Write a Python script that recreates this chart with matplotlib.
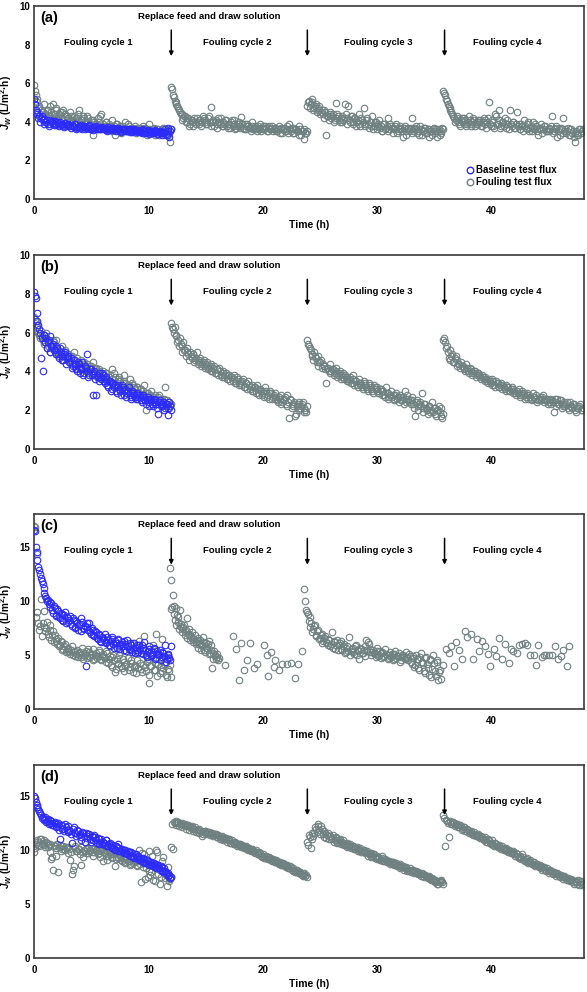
import numpy as np
import matplotlib
matplotlib.use('Agg')
import matplotlib.pyplot as plt
from matplotlib.lines import Line2D

plt.rcParams['font.family'] = ['Liberation Sans', 'DejaVu Sans']
plt.rcParams['font.weight'] = 'bold'
plt.rcParams['mathtext.fontset'] = 'custom'
plt.rcParams['mathtext.it'] = 'Liberation Sans:italic:bold'
plt.rcParams['mathtext.rm'] = 'Liberation Sans:bold'
plt.rcParams['mathtext.bf'] = 'Liberation Sans:bold'

# ---------------- data ----------------
x_ticks = [0, 10, 20, 30, 40]
cycle_labels = ['Fouling cycle 1', 'Fouling cycle 2', 'Fouling cycle 3', 'Fouling cycle 4']
replace_times = [12.0, 23.9, 35.9]
# sampling spans of each cycle (two interleaved reading sets per cycle)
cycle_t0 = [0.0, 12.0, 23.9, 35.8]
cycle_t1 = [11.9, 23.8, 35.7, 47.9]
cycle2_t0 = [0.075, 12.075, 23.975, 35.875]
cycle2_t1 = [11.975, 23.875, 35.775, 47.975]

# panel (a)
a_base_c1 = [5.2, 4.6, 4.4, 4.3, 4.2, 4.1, 4.15, 4.0, 3.9, 4.1, 4.0, 3.95, 4.05, 3.85, 3.95, 4.0, 3.9, 3.8, 3.95, 3.85,
             3.9, 3.8, 3.85, 3.75, 3.9, 3.7, 3.8, 3.85, 3.65, 3.8, 3.75, 3.7, 3.85, 3.6, 3.75, 3.7, 3.8, 3.65, 3.7, 3.6,
             3.7, 3.65, 3.55, 3.75, 3.6, 3.7, 3.55, 3.65, 3.6, 3.7, 3.5, 3.6, 3.55, 3.65, 3.5, 3.6, 3.55, 3.45, 3.6, 3.5,
             3.55, 3.5, 3.45, 3.6, 3.5, 3.4, 3.55, 3.45, 3.5, 3.4, 3.55, 3.45, 3.35, 3.5, 3.45, 3.4, 3.6, 3.3, 3.7, 3.5]
a_base_c1_2 = [4.9, 4.5, 4.2, 4.0, 4.3, 3.9, 4.0, 4.1, 3.8, 3.9, 4.05, 3.85, 3.9, 4.0, 3.8, 3.85, 3.9, 3.75, 3.85, 3.8,
               3.85, 3.7, 3.8, 3.9, 3.65, 3.75, 3.7, 3.8, 3.75, 3.6, 3.7, 3.8, 3.65, 3.7, 3.55, 3.75, 3.65, 3.7, 3.6, 3.75,
               3.6, 3.7, 3.5, 3.65, 3.55, 3.6, 3.7, 3.5, 3.55, 3.6, 3.45, 3.55, 3.6, 3.5, 3.55, 3.45, 3.6, 3.5, 3.55, 3.45,
               3.5, 3.45, 3.55, 3.4, 3.5, 3.45, 3.35, 3.5, 3.4, 3.45, 3.5, 3.35, 3.45, 3.4, 3.3, 3.45, 3.35, 3.5, 3.2, 3.65]
a_foul_c1 = [5.9, 5.4, 5.0, 4.8, 4.6, 4.5, 4.9, 4.4, 4.6, 4.3, 4.5, 4.9, 4.4, 4.7, 4.3, 4.5, 4.2, 4.6, 4.4, 4.3,
             4.2, 4.5, 4.1, 4.3, 4.0, 4.2, 4.6, 4.1, 3.9, 4.2, 4.0, 4.3, 3.8, 4.1, 3.3, 4.0, 3.9, 4.2, 3.8, 4.4,
             3.9, 3.7, 4.0, 3.8, 3.6, 4.1, 3.7, 3.3, 3.9, 3.6, 3.8, 3.5, 3.7, 4.0, 3.6, 3.8, 3.5, 3.7, 3.6, 3.4,
             3.7, 3.5, 3.6, 3.8, 3.4, 3.6, 3.5, 3.9, 3.4, 3.6, 3.3, 3.5, 3.6, 3.4, 3.5, 3.7, 3.3, 3.5, 3.6, 2.95]
a_foul_c1_2 = [5.6, 5.2, 4.7, 4.4, 4.5, 4.2, 4.4, 4.6, 4.3, 4.8, 4.2, 4.4, 4.6, 4.1, 4.4, 4.2, 4.5, 4.1, 4.3, 4.2,
               4.0, 4.3, 4.1, 3.9, 4.2, 4.4, 3.9, 4.1, 4.3, 3.8, 4.0, 4.2, 3.9, 3.7, 4.1, 3.9, 3.8, 4.0, 4.3, 3.7,
               3.8, 4.0, 3.6, 3.9, 3.7, 3.5, 3.8, 3.9, 3.6, 3.7, 3.4, 3.8, 3.6, 3.5, 3.9, 3.6, 3.7, 3.5, 3.8, 3.6,
               3.5, 3.7, 3.4, 3.5, 3.7, 3.3, 3.6, 3.4, 3.5, 3.7, 3.4, 3.6, 3.3, 3.5, 3.6, 3.4, 3.5, 3.3, 3.4, 3.6]
a_foul_c2 = [5.8, 5.4, 5.1, 4.9, 4.7, 4.5, 4.4, 4.2, 4.3, 4.0, 4.2, 3.9, 4.1, 3.8, 4.0, 4.2, 3.9, 4.1, 4.0, 4.2,
             4.1, 3.9, 4.3, 4.75, 4.0, 3.8, 4.1, 3.9, 4.0, 4.2, 3.8, 3.9, 4.1, 3.7, 3.9, 4.0, 3.8, 4.1, 3.7, 3.9,
             3.8, 4.25, 3.7, 3.9, 3.6, 3.8, 3.7, 4.0, 3.6, 3.8, 3.5, 3.7, 3.9, 3.6, 3.7, 3.8, 3.5, 3.7, 3.6, 3.8,
             3.6, 3.7, 3.5, 3.8, 3.6, 3.4, 3.7, 3.5, 3.6, 3.9, 3.5, 3.7, 3.4, 3.6, 3.5, 3.8, 3.3, 3.5, 3.6, 3.4]
a_foul_c2_2 = [5.7, 5.3, 5.0, 4.8, 4.6, 4.4, 4.1, 4.3, 4.0, 4.2, 3.8, 4.1, 4.0, 4.2, 3.9, 4.0, 4.1, 3.8, 4.3, 4.0,
               3.9, 4.2, 4.0, 3.8, 4.1, 4.0, 3.7, 4.2, 3.9, 3.8, 4.0, 4.1, 3.8, 3.9, 3.7, 4.1, 3.9, 3.6, 3.8, 4.0,
               3.7, 3.9, 3.6, 3.8, 3.9, 3.7, 3.5, 3.8, 3.7, 3.6, 3.8, 3.6, 3.5, 3.8, 3.6, 3.7, 3.5, 3.8, 3.6, 3.5,
               3.7, 3.5, 3.6, 3.4, 3.7, 3.6, 3.5, 3.8, 3.4, 3.6, 3.7, 3.4, 3.6, 3.5, 3.3, 3.6, 3.5, 3.1, 3.4, 3.5]
a_foul_c3 = [4.8, 5.1, 4.9, 5.0, 4.7, 4.9, 4.6, 4.8, 4.5, 4.4, 4.6, 3.3, 4.3, 4.5, 4.2, 4.4, 4.1, 4.95, 4.3, 4.0,
             4.3, 4.1, 4.9, 4.2, 4.8, 4.0, 4.3, 3.9, 4.2, 4.0, 4.4, 3.8, 4.1, 4.7, 3.9, 4.2, 3.7, 4.0, 4.3, 3.8,
             4.0, 3.6, 4.1, 3.8, 3.5, 3.9, 3.7, 4.2, 3.6, 3.8, 3.4, 3.7, 3.9, 3.5, 3.7, 3.6, 3.2, 3.8, 3.5, 3.7,
             3.6, 4.2, 3.5, 3.7, 3.4, 3.6, 3.8, 3.3, 3.5, 3.7, 3.4, 3.6, 3.5, 3.3, 3.7, 3.5, 3.2, 3.6, 3.4, 3.7]
a_foul_c3_2 = [5.0, 4.7, 5.2, 4.6, 4.8, 4.5, 4.7, 4.4, 4.6, 4.2, 4.5, 4.3, 4.1, 4.4, 4.3, 4.0, 4.2, 4.4, 4.1, 4.2,
               4.0, 4.2, 4.4, 3.9, 4.1, 4.3, 4.0, 4.2, 3.8, 4.1, 3.9, 4.2, 4.0, 3.8, 4.1, 3.9, 4.0, 3.8, 3.6, 4.0,
               3.8, 3.9, 3.7, 3.5, 3.9, 3.6, 3.8, 3.5, 3.9, 3.7, 3.6, 3.8, 3.4, 3.6, 3.8, 3.5, 3.7, 3.3, 3.6, 3.5,
               3.7, 3.4, 3.6, 3.8, 3.5, 3.3, 3.6, 3.5, 3.7, 3.4, 3.6, 3.2, 3.5, 3.6, 3.4, 3.6, 3.5, 3.3, 3.5, 3.6]
a_foul_c4 = [5.6, 5.4, 5.1, 4.8, 4.6, 4.4, 4.2, 4.1, 4.3, 3.9, 4.1, 4.0, 4.2, 3.8, 4.0, 4.1, 3.9, 4.2, 3.8, 4.0,
             3.9, 4.1, 3.8, 4.2, 3.9, 4.0, 5.0, 3.8, 4.1, 3.7, 4.3, 3.9, 4.6, 3.8, 4.0, 4.2, 3.7, 3.9, 4.6, 3.8,
             4.0, 3.7, 4.5, 3.9, 3.6, 3.8, 4.1, 3.7, 3.9, 3.5, 3.8, 4.0, 3.6, 3.8, 3.3, 3.7, 3.9, 3.6, 3.8, 3.5,
             3.7, 3.6, 4.3, 3.5, 3.8, 3.2, 3.6, 3.7, 4.2, 3.5, 3.4, 3.7, 3.3, 3.6, 3.5, 2.95, 3.4, 3.3, 3.6, 3.5]
a_foul_c4_2 = [5.5, 5.2, 4.9, 4.7, 4.5, 4.3, 4.0, 4.2, 4.0, 3.8, 4.2, 3.9, 4.1, 3.9, 4.3, 3.8, 4.0, 4.1, 3.9, 4.1,
               4.0, 3.8, 4.0, 4.1, 3.7, 4.2, 3.9, 4.0, 3.8, 4.4, 3.9, 4.1, 3.7, 4.0, 3.8, 3.9, 4.1, 3.6, 3.9, 4.0,
               3.7, 3.9, 3.8, 3.6, 3.9, 3.5, 3.8, 3.6, 4.0, 3.7, 3.5, 3.7, 3.9, 3.5, 3.7, 3.6, 3.4, 3.8, 3.5, 3.6,
               3.5, 3.8, 3.4, 3.6, 3.7, 3.5, 3.3, 3.6, 3.4, 3.6, 3.5, 3.3, 3.6, 3.4, 3.2, 3.5, 3.3, 3.6, 3.4, 3.6]

# panel (b)
b_base_c1 = [8.1, 7.8, 6.6, 6.2, 4.7, 4.0, 5.9, 5.7, 5.5, 5.8, 5.3, 5.4, 5.1, 5.3, 4.9, 5.2, 4.8, 4.6, 5.0, 4.7,
             4.8, 4.5, 4.2, 4.6, 4.3, 4.0, 4.4, 4.1, 4.5, 3.9, 4.2, 4.9, 3.8, 4.1, 2.8, 4.0, 2.8, 3.7, 3.9, 3.6,
             3.8, 3.4, 3.6, 3.2, 3.5, 3.1, 3.4, 3.3, 2.9, 3.2, 3.0, 3.3, 2.8, 3.1, 2.9, 3.2, 2.7, 3.0, 2.8, 2.6,
             2.9, 2.7, 2.5, 2.8, 2.6, 2.3, 2.7, 2.4, 2.6, 2.2, 2.5, 2.3, 1.8, 2.5, 2.2, 2.4, 2.1, 2.3, 1.75, 2.2]
b_base_c1_2 = [7.9, 7.0, 6.4, 6.0, 5.7, 5.9, 5.5, 5.2, 5.6, 5.0, 5.3, 5.1, 4.9, 5.2, 4.7, 5.0, 4.6, 4.9, 4.4, 4.8,
               4.5, 4.7, 4.3, 4.4, 4.1, 4.5, 3.9, 4.2, 3.8, 4.3, 4.0, 3.7, 4.1, 3.8, 3.9, 3.6, 3.8, 3.5, 3.7, 3.9,
               3.5, 3.7, 3.3, 3.5, 3.0, 3.4, 3.2, 3.0, 3.3, 3.1, 2.8, 3.2, 3.0, 2.7, 3.0, 2.8, 2.6, 2.9, 2.7, 2.8,
               2.6, 2.8, 2.4, 2.7, 2.5, 2.6, 2.2, 2.5, 2.3, 2.6, 2.4, 2.1, 2.4, 2.2, 2.3, 2.0, 2.3, 2.1, 2.4, 2.0]
b_foul_c1 = [6.8, 6.6, 6.3, 5.9, 6.1, 5.6, 5.5, 6.0, 5.3, 5.4, 5.2, 5.6, 5.0, 5.6, 5.1, 4.9, 5.3, 4.8, 5.1, 4.7,
             4.9, 4.6, 4.8, 5.0, 4.4, 4.7, 4.3, 4.6, 4.2, 4.5, 4.1, 4.4, 4.0, 4.3, 4.5, 3.9, 4.2, 3.8, 4.1, 3.7,
             4.0, 3.6, 3.9, 3.5, 3.8, 4.1, 3.4, 3.7, 3.3, 3.6, 3.5, 3.2, 3.8, 3.4, 3.1, 3.3, 3.0, 3.4, 3.2, 2.9,
             3.2, 2.9, 3.1, 2.8, 3.3, 2.0, 2.9, 2.7, 3.0, 2.6, 2.8, 2.5, 2.7, 2.4, 2.6, 2.3, 3.2, 2.5, 2.4, 2.3]
b_foul_c1_2 = [6.7, 6.4, 6.0, 5.7, 5.8, 5.4, 5.7, 5.2, 5.5, 5.0, 5.3, 5.5, 4.9, 5.2, 4.8, 5.0, 4.6, 5.0, 4.7, 4.9,
               4.6, 4.8, 4.4, 4.6, 4.2, 4.5, 4.1, 4.3, 4.4, 4.0, 4.2, 3.9, 4.3, 4.0, 3.8, 4.1, 3.7, 4.0, 3.9, 3.6,
               3.8, 3.9, 3.5, 3.7, 3.4, 3.6, 3.9, 3.3, 3.5, 3.7, 3.2, 3.4, 3.5, 3.1, 3.3, 3.6, 3.0, 3.3, 3.1, 3.2,
               2.9, 3.1, 2.8, 3.0, 2.7, 2.9, 2.6, 2.8, 2.5, 2.7, 2.4, 2.6, 2.8, 2.3, 2.5, 2.6, 2.2, 2.4, 2.1, 2.3]
b_foul_c2 = [6.5, 6.2, 6.3, 5.8, 5.6, 5.7, 5.3, 5.5, 5.1, 5.2, 4.9, 5.0, 4.7, 4.9, 4.6, 5.0, 4.5, 4.7, 4.4, 4.6,
             4.3, 4.5, 4.2, 4.4, 4.0, 4.3, 3.9, 4.1, 4.2, 3.8, 4.0, 3.7, 3.9, 3.6, 3.8, 3.7, 3.5, 3.8, 3.4, 3.6,
             3.5, 3.3, 3.6, 3.2, 3.4, 3.5, 3.1, 3.3, 3.0, 3.2, 3.3, 2.9, 3.1, 2.8, 3.0, 3.2, 2.7, 2.9, 3.0, 2.6,
             2.8, 2.9, 2.5, 2.7, 2.8, 2.4, 2.6, 2.3, 2.8, 1.6, 2.5, 2.2, 2.4, 1.8, 2.3, 2.0, 2.2, 2.4, 2.1, 1.9]
b_foul_c2_2 = [6.3, 6.0, 5.9, 5.5, 5.3, 5.4, 5.0, 5.1, 4.8, 5.0, 4.6, 4.8, 4.9, 4.5, 4.7, 4.4, 4.6, 4.3, 4.5, 4.2,
               4.4, 4.1, 4.3, 4.0, 4.2, 3.9, 4.1, 3.8, 4.0, 3.7, 3.9, 3.8, 3.6, 3.8, 3.5, 3.7, 3.6, 3.4, 3.7, 3.3,
               3.4, 3.5, 3.2, 3.4, 3.1, 3.3, 3.2, 3.0, 3.2, 2.9, 3.1, 2.8, 3.0, 2.9, 2.7, 3.0, 2.8, 2.6, 2.9, 2.7,
               2.6, 2.7, 2.4, 2.6, 2.3, 2.5, 2.7, 2.2, 2.4, 2.6, 2.1, 2.3, 1.7, 2.2, 2.4, 2.1, 2.3, 1.9, 2.0, 2.2]
b_foul_c3 = [5.6, 5.3, 5.1, 4.9, 5.0, 4.7, 4.8, 4.5, 4.6, 4.4, 4.3, 3.4, 4.2, 4.4, 4.0, 4.1, 3.9, 4.2, 3.8, 4.0,
             3.7, 3.9, 3.8, 3.6, 3.5, 3.7, 3.4, 3.8, 3.5, 3.3, 3.6, 3.4, 3.2, 3.5, 3.3, 3.1, 3.4, 3.2, 3.0, 3.3,
             3.1, 3.2, 2.9, 3.1, 3.0, 2.8, 3.2, 2.9, 2.7, 3.0, 2.8, 2.6, 2.9, 2.7, 2.8, 2.5, 2.7, 3.0, 2.4, 2.6,
             2.5, 2.7, 2.3, 1.7, 2.5, 2.2, 2.4, 2.9, 2.1, 2.3, 2.0, 2.2, 1.9, 2.4, 2.1, 1.8, 2.0, 2.2, 1.7, 1.6]
b_foul_c3_2 = [5.4, 5.2, 4.8, 4.6, 4.8, 4.5, 4.3, 4.5, 4.2, 4.3, 4.1, 4.2, 4.0, 3.9, 4.1, 3.8, 4.0, 3.7, 3.9, 3.6,
               3.8, 3.6, 3.7, 3.5, 3.6, 3.4, 3.6, 3.3, 3.5, 3.2, 3.4, 3.3, 3.1, 3.4, 3.2, 3.0, 3.3, 3.1, 2.9, 3.2,
               3.0, 2.9, 3.1, 2.8, 3.0, 2.7, 2.9, 2.6, 2.8, 2.7, 2.5, 2.8, 2.6, 2.4, 2.7, 2.5, 2.3, 2.6, 2.8, 2.4,
               2.3, 2.5, 2.1, 2.4, 2.0, 2.3, 2.2, 1.9, 2.3, 2.1, 1.8, 2.2, 2.0, 1.9, 2.1, 1.7, 2.0, 1.9, 2.1, 1.8]
b_foul_c4 = [5.6, 5.5, 5.3, 4.7, 5.1, 4.9, 4.5, 4.8, 4.6, 4.4, 4.5, 4.3, 4.2, 4.4, 4.0, 4.2, 4.1, 3.9, 4.0, 3.8,
             3.9, 3.7, 3.8, 3.6, 3.7, 3.5, 3.6, 3.4, 3.6, 3.3, 3.5, 3.4, 3.2, 3.4, 3.3, 3.1, 3.3, 3.2, 3.0, 3.2,
             3.1, 2.9, 3.0, 3.1, 2.8, 3.0, 2.9, 2.7, 2.9, 2.8, 2.6, 2.9, 2.7, 2.8, 2.5, 2.7, 2.6, 2.8, 2.5, 2.6,
             2.4, 2.6, 2.5, 1.9, 2.4, 2.6, 2.3, 2.5, 2.2, 2.4, 2.3, 2.1, 2.4, 2.2, 2.3, 2.0, 2.2, 2.1, 2.3, 2.0]
b_foul_c4_2 = [5.7, 5.2, 5.0, 4.6, 4.8, 4.5, 4.7, 4.3, 4.4, 4.2, 4.3, 4.1, 4.0, 4.2, 3.9, 4.0, 3.8, 4.0, 3.7, 3.9,
               3.8, 3.6, 3.7, 3.5, 3.6, 3.4, 3.5, 3.3, 3.5, 3.2, 3.4, 3.2, 3.3, 3.1, 3.2, 3.0, 3.2, 3.0, 3.1, 2.9,
               3.0, 2.8, 2.9, 2.7, 2.9, 2.8, 2.6, 2.8, 2.6, 2.7, 2.5, 2.7, 2.6, 2.4, 2.6, 2.5, 2.7, 2.4, 2.6, 2.3,
               2.5, 2.3, 2.4, 2.6, 2.2, 2.3, 2.5, 2.1, 2.3, 2.2, 2.4, 2.0, 2.2, 2.1, 2.3, 1.9, 2.1, 2.2, 2.0, 2.1]

# panel (c)
c_base_c1 = [16.6, 15.0, 13.8, 12.9, 12.2, 11.6, 10.8, 10.3, 10.1, 9.5, 9.8, 8.9, 9.4, 8.6, 9.1, 8.4, 8.8, 8.2, 9.0, 8.5,
             8.1, 8.6, 7.7, 8.3, 7.5, 8.0, 7.8, 7.2, 8.1, 7.4, 4.0, 7.6, 8.0, 7.0, 7.3, 6.8, 7.1, 6.5, 6.9, 6.2,
             6.6, 7.0, 6.1, 6.4, 5.8, 6.7, 6.0, 6.3, 5.7, 6.5, 5.9, 6.2, 5.5, 6.0, 6.4, 5.6, 5.9, 5.3, 6.1, 5.7,
             5.5, 5.9, 5.2, 5.7, 6.2, 5.0, 5.4, 5.8, 4.9, 5.3, 5.6, 4.7, 5.1, 5.5, 4.8, 5.2, 5.9, 4.6, 5.0, 4.5]
c_base_c1_2 = [16.5, 14.6, 13.2, 12.5, 11.9, 11.2, 10.5, 10.0, 9.7, 9.9, 9.2, 9.6, 8.7, 9.3, 8.5, 8.9, 8.3, 8.7, 8.0, 8.4,
               8.3, 7.9, 8.4, 7.6, 8.2, 7.3, 7.9, 8.4, 7.5, 7.7, 8.0, 7.3, 7.1, 7.5, 6.9, 7.2, 6.6, 7.0, 6.3, 6.7,
               6.4, 6.2, 6.7, 5.9, 6.3, 6.5, 5.7, 6.1, 6.4, 5.6, 6.0, 5.8, 6.3, 5.4, 5.8, 6.1, 5.5, 5.7, 5.2, 5.9,
               5.3, 5.6, 5.9, 5.1, 5.5, 4.8, 5.6, 5.2, 5.0, 5.7, 4.6, 5.4, 5.0, 4.5, 5.3, 4.9, 4.4, 5.1, 4.7, 5.8]
c_foul_c1 = [17.0, 8.5, 14.4, 7.3, 10.2, 8.0, 9.1, 7.5, 7.0, 7.8, 6.4, 7.2, 6.9, 6.3, 6.6, 5.9, 6.2, 5.6, 6.0, 5.4,
             5.6, 5.1, 5.8, 5.3, 4.9, 5.5, 5.2, 4.8, 5.7, 5.0, 5.4, 4.7, 5.3, 5.0, 5.6, 4.6, 5.2, 4.9, 5.5, 4.5,
             5.1, 4.7, 5.4, 4.3, 4.9, 3.9, 5.0, 3.4, 4.6, 4.2, 5.3, 3.8, 4.4, 4.0, 5.8, 3.6, 4.3, 6.1, 3.9, 3.3,
             4.5, 6.3, 3.7, 4.1, 6.8, 3.5, 4.6, 2.4, 4.0, 5.9, 3.6, 7.0, 4.2, 3.3, 6.5, 3.8, 4.4, 3.0, 3.7, 4.1]
c_foul_c1_2 = [16.9, 9.0, 8.0, 7.7, 6.8, 7.6, 7.2, 8.1, 6.7, 7.3, 6.9, 6.2, 6.5, 6.0, 5.8, 6.3, 5.5, 5.8, 5.3, 5.7,
               5.3, 5.5, 5.0, 5.4, 5.1, 4.8, 5.3, 5.0, 4.6, 5.2, 4.9, 5.6, 4.8, 5.1, 4.5, 5.0, 4.7, 5.3, 4.6, 4.9,
               4.8, 4.4, 5.2, 4.6, 4.1, 4.8, 4.5, 3.7, 4.3, 5.0, 4.0, 4.6, 3.5, 4.2, 4.7, 3.9, 4.5, 3.4, 4.1, 5.2,
               3.8, 4.3, 3.4, 5.5, 3.9, 4.4, 3.2, 4.0, 5.0, 3.6, 4.3, 3.1, 4.6, 3.9, 3.5, 4.2, 3.2, 4.8, 3.5, 3.0]
c_c1_span = [0.0, 11.9]
c_c1_span_2 = [0.075, 11.975]
c_foul_c2_dense = [13.1, 12.0, 10.6, 9.6, 9.4, 8.7, 8.5, 9.2, 7.9, 7.5, 7.8, 7.2, 8.4, 7.0, 7.4, 6.8, 7.1, 6.5,
                   6.9, 6.2, 6.6, 6.0, 6.4, 5.8, 6.7, 5.5, 6.1, 5.7, 6.3, 5.2, 5.9, 4.6, 5.4, 5.0, 4.8, 4.5]
c_foul_c2_dense_2 = [9.3, 9.5, 8.8, 8.3, 7.8, 8.1, 7.4, 7.7, 7.1, 7.6, 6.9, 7.3, 6.6, 7.0, 6.4, 6.7, 6.2, 6.5,
                     6.0, 6.3, 5.7, 6.1, 5.5, 5.9, 6.2, 5.3, 5.7, 6.0, 5.1, 5.5, 3.8, 5.2, 4.9, 4.6, 5.1, 4.7]
c_c2_dense_span = [11.9, 16.1]
c_c2_dense_span_2 = [11.96, 16.16]
c_foul_c2_sparse_t = [16.7, 17.4, 17.7, 17.9, 18.1, 18.4, 18.6, 18.9, 19.2, 19.5, 20.1, 20.4, 20.5, 20.7, 21.0,
                      21.1, 21.4, 21.7, 22.1, 22.5, 22.8, 23.1, 23.4]
c_foul_c2_sparse_y = [4.1, 6.8, 5.6, 2.7, 6.1, 3.6, 4.5, 6.1, 3.8, 4.2, 5.9, 5.0, 3.05, 5.3, 3.9, 4.5, 3.6, 4.2,
                      4.2, 4.3, 2.9, 4.2, 5.4]
c_foul_c3 = [11.1, 9.2, 8.8, 8.5, 8.0, 7.4, 7.8, 6.9, 7.3, 6.6, 7.0, 6.3, 6.8, 6.1, 6.5, 5.8, 7.1, 6.2, 5.6, 6.4,
             5.9, 6.3, 5.5, 6.0, 5.3, 5.8, 6.7, 5.4, 5.7, 5.1, 5.9, 5.5, 4.6, 5.6, 5.2, 5.8, 6.4, 6.2, 5.3, 5.0,
             5.5, 5.1, 5.7, 4.9, 5.4, 5.2, 4.8, 5.6, 5.0, 4.7, 5.3, 5.1, 4.6, 5.4, 4.9, 5.2, 4.5, 5.0, 4.8, 5.3,
             4.7, 5.1, 4.4, 4.9, 3.9, 5.0, 4.6, 3.6, 5.2, 4.3, 3.3, 4.8, 3.8, 4.5, 3.0, 5.0, 3.5, 4.4, 2.7, 3.6]
c_foul_c3_2 = [10.0, 9.0, 8.2, 7.6, 7.1, 7.7, 6.8, 7.2, 6.5, 6.9, 6.1, 6.6, 6.2, 5.9, 6.4, 6.0, 5.7, 6.3, 5.9, 5.5,
               6.1, 5.6, 5.8, 5.2, 5.7, 5.4, 5.0, 5.6, 5.3, 5.8, 5.0, 5.4, 5.7, 5.2, 5.5, 4.9, 5.4, 6.0, 5.6, 5.3,
               5.2, 4.8, 5.4, 5.0, 4.7, 5.3, 4.9, 5.1, 4.6, 5.0, 4.8, 4.5, 5.1, 4.7, 4.9, 4.4, 4.8, 5.0, 4.6, 4.8,
               4.5, 4.9, 4.2, 4.7, 4.1, 4.6, 3.8, 4.8, 4.4, 3.5, 4.7, 4.2, 3.2, 4.6, 3.7, 4.3, 3.1, 4.5, 3.4, 2.8]
c_c3_span = [23.65, 35.5]
c_c3_span_2 = [23.72, 35.57]
c_foul_c4_t = [35.8, 36.0, 36.3, 36.5, 36.7, 36.9, 37.2, 37.4, 37.7, 37.9, 38.2, 38.4, 38.7, 38.9, 39.2, 39.4,
               39.7, 39.9, 40.2, 40.4, 40.7, 40.9, 41.2, 41.5, 41.7, 41.9, 42.2, 42.4, 42.7, 42.9, 43.1, 43.4,
               43.7, 43.9, 44.1, 44.4, 44.6, 44.8, 45.0, 45.3, 45.6, 45.8, 46.1, 46.3, 46.6, 46.8]
c_foul_c4_y = [4.1, 5.6, 5.2, 5.8, 4.0, 6.2, 5.5, 4.6, 7.2, 6.7, 7.0, 4.6, 6.5, 5.4, 6.3, 5.8,
               5.1, 4.0, 5.6, 4.9, 6.6, 4.6, 6.0, 4.3, 5.6, 5.4, 5.2, 5.9, 6.0, 6.1, 5.9, 5.0,
               5.0, 4.1, 5.9, 4.8, 5.0, 5.0, 5.0, 5.0, 5.8, 4.6, 4.9, 5.5, 4.0, 5.8]

# panel (d)
d_base_c1 = [15.0, 14.5, 14.0, 13.6, 13.3, 13.1, 12.9, 12.6, 12.9, 12.5, 12.7, 12.3, 12.6, 12.2, 12.5, 11.0, 12.3, 12.0, 12.4, 11.9,
             12.2, 11.8, 10.7, 12.1, 11.6, 11.9, 11.4, 10.9, 11.7, 11.3, 11.6, 11.1, 11.5, 10.8, 11.2, 11.4, 10.9, 11.1, 10.6, 11.0,
             10.8, 10.5, 10.9, 10.4, 10.7, 10.2, 10.5, 10.0, 10.3, 10.6, 9.9, 10.1, 9.7, 10.0, 9.6, 9.8, 9.5, 9.7, 9.3, 9.6,
             9.4, 9.1, 9.3, 8.9, 9.2, 8.8, 9.0, 8.6, 8.9, 8.5, 8.7, 8.3, 8.6, 8.2, 8.4, 8.0, 8.1, 7.8, 7.6, 7.4]
d_base_c1_2 = [14.8, 14.2, 13.8, 13.4, 13.0, 12.8, 13.1, 12.7, 12.4, 12.8, 12.3, 12.5, 12.1, 12.4, 11.9, 12.3, 12.0, 11.8, 12.1, 11.7,
               11.9, 11.5, 12.0, 11.6, 11.3, 11.8, 11.5, 11.2, 11.6, 10.8, 11.3, 11.5, 11.0, 11.3, 10.9, 11.2, 10.7, 11.0, 10.8, 10.6,
               10.7, 10.9, 10.4, 10.6, 10.3, 10.5, 10.1, 10.4, 9.9, 10.2, 10.0, 9.8, 10.0, 9.7, 9.9, 9.5, 9.8, 9.4, 9.6, 9.3,
               9.5, 9.2, 9.0, 9.3, 8.8, 9.1, 8.7, 8.9, 8.6, 8.8, 8.4, 8.6, 8.3, 8.5, 8.1, 8.3, 8.0, 7.9, 7.7, 7.5]
d_foul_c1 = [9.8, 10.6, 10.9, 10.4, 11.0, 10.7, 10.5, 10.8, 10.3, 10.6, 9.2, 8.2, 10.4, 9.5, 8.0, 10.5, 10.1, 10.4, 10.0, 10.2,
             10.3, 9.1, 7.8, 8.5, 10.2, 9.9, 10.1, 8.6, 9.8, 10.0, 9.7, 10.2, 9.9, 10.4, 10.1, 9.8, 10.0, 9.6, 10.3, 9.9,
             9.0, 9.7, 10.0, 9.5, 9.8, 9.4, 9.6, 8.5, 9.7, 9.3, 9.5, 9.0, 9.4, 8.8, 9.2, 9.0, 8.7, 9.3, 8.9, 9.1,
             8.6, 10.0, 7.0, 8.8, 9.6, 8.3, 7.5, 9.9, 8.0, 7.2, 8.5, 10.0, 7.8, 6.9, 8.2, 9.4, 7.4, 6.7, 7.6, 7.3]
d_foul_c1_2 = [10.2, 10.8, 10.5, 11.0, 10.6, 10.9, 10.3, 10.7, 10.5, 9.8, 9.4, 10.5, 10.2, 10.6, 10.3, 9.9, 10.4, 10.1, 10.3, 9.7,
               10.1, 9.8, 8.2, 10.4, 9.9, 10.1, 9.6, 10.3, 9.4, 9.9, 10.1, 9.7, 10.0, 9.8, 9.5, 10.2, 9.9, 9.7, 9.4, 10.1,
               9.8, 9.5, 9.1, 9.8, 9.6, 9.3, 9.7, 9.2, 9.4, 9.6, 9.1, 9.3, 8.9, 9.5, 9.0, 8.6, 9.2, 8.8, 9.0, 8.5,
               9.0, 8.7, 9.7, 8.4, 7.3, 9.2, 8.1, 7.7, 9.5, 8.6, 7.1, 9.8, 8.3, 7.5, 9.0, 8.0, 7.7, 8.4, 7.1, 7.5]
d_foul_c2 = [10.3, 10.1, 12.5, 12.7, 12.6, 12.4, 12.5, 12.3, 12.4, 12.2, 12.3, 12.1, 12.2, 12.0, 12.1, 11.9, 12.0, 11.8, 11.3, 11.7,
             11.8, 11.6, 11.7, 11.5, 11.6, 11.4, 11.5, 11.2, 11.3, 11.1, 11.2, 11.0, 11.1, 10.9, 11.0, 10.7, 10.8, 10.6, 10.7, 10.5,
             10.6, 10.3, 10.4, 10.2, 10.3, 10.0, 10.1, 9.9, 10.0, 9.7, 9.8, 9.6, 9.7, 9.4, 9.5, 9.3, 9.4, 9.2, 9.3, 9.0,
             9.1, 8.9, 9.0, 8.7, 8.8, 8.6, 8.7, 8.4, 8.5, 8.3, 8.4, 8.1, 8.2, 8.0, 8.1, 7.9, 7.8, 7.6, 7.8, 7.7]
d_foul_c2_2 = [12.4, 12.6, 12.3, 12.5, 12.2, 12.4, 12.1, 12.3, 12.0, 12.2, 11.9, 12.1, 11.8, 12.0, 11.7, 11.9, 11.6, 11.8, 11.5, 11.8,
               11.5, 11.7, 11.4, 11.6, 11.3, 11.5, 11.2, 11.4, 11.0, 11.3, 10.9, 11.1, 10.8, 11.0, 10.7, 10.9, 10.6, 10.8, 10.4, 10.6,
               10.4, 10.5, 10.2, 10.4, 10.1, 10.2, 9.9, 10.1, 9.8, 10.0, 9.6, 9.8, 9.5, 9.6, 9.3, 9.5, 9.2, 9.4, 9.1, 9.2,
               8.9, 9.1, 8.8, 8.9, 8.6, 8.8, 8.5, 8.6, 8.3, 8.5, 8.2, 8.3, 8.0, 8.2, 7.9, 8.0, 7.7, 7.9, 7.6, 7.5]
d_foul_c3 = [10.8, 11.4, 10.2, 11.0, 11.6, 12.0, 12.4, 11.9, 12.2, 11.5, 11.8, 11.1, 11.6, 11.3, 11.0, 11.4, 10.9, 11.2, 10.8, 11.0,
             10.7, 10.9, 10.5, 10.7, 10.4, 10.6, 10.3, 10.4, 10.1, 10.3, 10.0, 10.2, 9.9, 10.0, 9.8, 9.9, 9.6, 9.7, 9.5, 9.6,
             9.4, 9.5, 9.3, 9.1, 9.5, 9.0, 9.1, 8.9, 9.0, 8.8, 8.9, 8.7, 8.8, 8.5, 8.7, 8.4, 8.5, 8.3, 8.4, 8.2,
             8.3, 8.1, 8.2, 8.0, 7.9, 8.0, 7.8, 7.9, 7.6, 7.7, 7.5, 7.6, 7.3, 7.4, 7.1, 7.2, 6.9, 7.0, 7.1, 7.0]
d_foul_c3_2 = [10.5, 11.2, 11.6, 11.3, 12.1, 11.7, 12.2, 11.5, 12.0, 11.2, 11.6, 11.4, 11.0, 11.3, 11.1, 10.8, 11.1, 10.7, 10.9, 10.6,
               10.8, 10.5, 10.6, 10.3, 10.5, 10.2, 10.4, 10.1, 10.2, 9.9, 10.1, 9.8, 10.0, 9.7, 9.8, 9.5, 9.7, 9.4, 9.6, 9.3,
               9.2, 9.4, 9.1, 9.3, 9.0, 9.2, 8.9, 9.0, 8.7, 8.9, 8.6, 8.8, 8.5, 8.6, 8.3, 8.5, 8.2, 8.3, 8.1, 8.2,
               8.0, 8.2, 7.9, 8.1, 7.8, 7.9, 7.6, 7.8, 7.5, 7.6, 7.4, 7.5, 7.2, 7.3, 7.0, 7.1, 6.9, 7.1, 7.2, 6.9]
d_foul_c4 = [13.3, 10.4, 12.7, 11.2, 12.6, 12.4, 12.5, 12.3, 12.4, 12.1, 12.2, 12.0, 12.1, 11.8, 11.9, 11.6, 11.7, 11.4, 11.5, 11.3,
             11.4, 11.1, 11.2, 10.9, 11.0, 10.8, 10.9, 10.6, 10.7, 10.4, 10.6, 10.3, 10.4, 10.1, 10.2, 10.0, 10.1, 9.8, 9.9, 9.7,
             9.8, 9.5, 9.6, 9.3, 9.4, 9.6, 9.1, 9.2, 8.9, 9.0, 8.8, 8.9, 8.6, 8.7, 8.5, 8.6, 8.3, 8.4, 8.2, 8.3,
             8.1, 8.2, 7.9, 8.0, 7.8, 7.9, 7.6, 7.7, 7.5, 7.6, 7.3, 7.4, 7.2, 7.3, 7.0, 7.1, 6.9, 7.2, 7.0, 6.8]
d_foul_c4_2 = [13.0, 12.8, 12.5, 12.7, 12.4, 12.6, 12.2, 12.4, 12.1, 12.3, 11.9, 12.1, 11.8, 12.0, 11.6, 11.8, 11.5, 11.7, 11.3, 11.5,
               11.2, 11.3, 11.0, 11.2, 10.8, 11.0, 10.7, 10.9, 10.5, 10.7, 10.4, 10.5, 10.2, 10.4, 10.0, 10.2, 9.9, 10.0, 9.7, 9.9,
               9.6, 9.7, 9.4, 9.5, 9.2, 9.4, 9.0, 9.3, 8.8, 9.1, 8.7, 8.9, 8.5, 8.7, 8.4, 8.5, 8.2, 8.4, 8.1, 8.2,
               7.9, 8.1, 7.8, 7.9, 7.6, 7.8, 7.5, 7.6, 7.3, 7.5, 7.2, 7.3, 7.1, 7.2, 6.9, 7.1, 7.0, 6.8, 7.1, 6.9]

# ---------------- styling ----------------
BLUE = '#2b2bff'
GRAY = '#6f8080'
MS = 4.7
MEW = 0.8


def plot_dense(ax, y, t0, t1, color, z=2):
    t = np.linspace(t0, t1, len(y))
    ax.plot(t, y, ls='none', marker='o', mfc='none', mec=color, ms=MS, mew=MEW, zorder=z)


def plot_pts(ax, t, y, color, z=2):
    ax.plot(t, y, ls='none', marker='o', mfc='none', mec=color, ms=MS, mew=MEW, zorder=z)


fig = plt.figure(figsize=(5.87, 9.92), dpi=100)
rects = [(0.058, 0.7994, 0.937, 0.1946),
         (0.058, 0.5474, 0.937, 0.1955),
         (0.058, 0.2853, 0.937, 0.1966),
         (0.058, 0.0343, 0.937, 0.1946)]
ylims = [(0, 10), (0, 10), (0, 18.1), (0, 17.9)]
yticks = [[0, 2, 4, 6, 8, 10], [0, 2, 4, 6, 8, 10], [0, 5, 10, 15], [0, 5, 10, 15]]
panel_letters = ['(a)', '(b)', '(c)', '(d)']
label_x = [5.6, 17.8, 30.1, 41.4]

axes = []
for i, r in enumerate(rects):
    ax = fig.add_axes(r)
    axes.append(ax)
    ax.set_xlim(0, 48.1)
    ax.set_ylim(*ylims[i])
    ax.set_xticks(x_ticks)
    ax.set_yticks(yticks[i])
    ax.tick_params(axis='x', length=0, labelsize=7, pad=5)
    ax.tick_params(axis='y', length=0, labelsize=7, pad=3)
    for lab in ax.get_xticklabels() + ax.get_yticklabels():
        lab.set_fontweight('bold')
    for s in ax.spines.values():
        s.set_color('#3a3a3a')
        s.set_linewidth(1.2)
    ax.set_xlabel('Time (h)', fontsize=7.5, fontweight='bold', labelpad=3)
    ax.set_ylabel(r'$J_W$ (L/m$^2$·h)', fontsize=7.2, fontweight='bold')
    ax.yaxis.set_label_coords(-0.036, 0.5)
    ax.text(0.011, 0.94, panel_letters[i], transform=ax.transAxes, fontsize=10.5,
            fontweight='bold', ha='left', va='center')
    ax.text(0.319, 0.945, 'Replace feed and draw solution', transform=ax.transAxes,
            fontsize=6.8, fontweight='bold', ha='center', va='center')
    for lx, lab in zip(label_x, cycle_labels):
        ax.text(lx, 0.813, lab, transform=ax.get_xaxis_transform(), fontsize=6.8,
                fontweight='bold', ha='center', va='center')
    for rt in replace_times:
        ax.annotate('', xy=(rt, 0.74), xytext=(rt, 0.875),
                    xycoords=ax.get_xaxis_transform(), textcoords=ax.get_xaxis_transform(),
                    arrowprops=dict(arrowstyle='-|>', lw=1.1, color='black', mutation_scale=6,
                                    shrinkA=0, shrinkB=0))

# (a)
ax = axes[0]
for k, (y1, y2) in enumerate(zip([a_foul_c1, a_foul_c2, a_foul_c3, a_foul_c4],
                                 [a_foul_c1_2, a_foul_c2_2, a_foul_c3_2, a_foul_c4_2])):
    plot_dense(ax, y1, cycle_t0[k], cycle_t1[k], GRAY)
    plot_dense(ax, y2, cycle2_t0[k], cycle2_t1[k], GRAY)
plot_dense(ax, a_base_c1, cycle_t0[0], cycle_t1[0], BLUE, z=3)
plot_dense(ax, a_base_c1_2, cycle2_t0[0], cycle2_t1[0], BLUE, z=3)
handles = [Line2D([], [], ls='none', marker='o', mfc='none', mec=BLUE, ms=MS, mew=1.0),
           Line2D([], [], ls='none', marker='o', mfc='none', mec=GRAY, ms=MS, mew=1.0)]
ax.legend(handles, ['Baseline test flux', 'Fouling test flux'], loc='lower left',
          bbox_to_anchor=(0.78, 0.04), frameon=False, handlelength=0.6,
          handletextpad=0.3, labelspacing=0.25, borderaxespad=0,
          prop={'size': 7, 'weight': 'bold'})

# (b)
ax = axes[1]
for k, (y1, y2) in enumerate(zip([b_foul_c1, b_foul_c2, b_foul_c3, b_foul_c4],
                                 [b_foul_c1_2, b_foul_c2_2, b_foul_c3_2, b_foul_c4_2])):
    plot_dense(ax, y1, cycle_t0[k], cycle_t1[k], GRAY)
    plot_dense(ax, y2, cycle2_t0[k], cycle2_t1[k], GRAY)
plot_dense(ax, b_base_c1, cycle_t0[0], cycle_t1[0], BLUE, z=3)
plot_dense(ax, b_base_c1_2, cycle2_t0[0], cycle2_t1[0], BLUE, z=3)

# (c)
ax = axes[2]
plot_dense(ax, c_foul_c1, c_c1_span[0], c_c1_span[1], GRAY)
plot_dense(ax, c_foul_c1_2, c_c1_span_2[0], c_c1_span_2[1], GRAY)
plot_dense(ax, c_foul_c2_dense, c_c2_dense_span[0], c_c2_dense_span[1], GRAY)
plot_dense(ax, c_foul_c2_dense_2, c_c2_dense_span_2[0], c_c2_dense_span_2[1], GRAY)
plot_pts(ax, c_foul_c2_sparse_t, c_foul_c2_sparse_y, GRAY)
plot_dense(ax, c_foul_c3, c_c3_span[0], c_c3_span[1], GRAY)
plot_dense(ax, c_foul_c3_2, c_c3_span_2[0], c_c3_span_2[1], GRAY)
plot_pts(ax, c_foul_c4_t, c_foul_c4_y, GRAY)
plot_dense(ax, c_base_c1, c_c1_span[0], c_c1_span[1], BLUE, z=3)
plot_dense(ax, c_base_c1_2, c_c1_span_2[0], c_c1_span_2[1], BLUE, z=3)

# (d)
ax = axes[3]
for k, (y1, y2) in enumerate(zip([d_foul_c1, d_foul_c2, d_foul_c3, d_foul_c4],
                                 [d_foul_c1_2, d_foul_c2_2, d_foul_c3_2, d_foul_c4_2])):
    plot_dense(ax, y1, cycle_t0[k], cycle_t1[k], GRAY)
    plot_dense(ax, y2, cycle2_t0[k], cycle2_t1[k], GRAY)
plot_dense(ax, d_base_c1, cycle_t0[0], cycle_t1[0], BLUE, z=3)
plot_dense(ax, d_base_c1_2, cycle2_t0[0], cycle2_t1[0], BLUE, z=3)

fig.savefig('out.png', dpi=100)
